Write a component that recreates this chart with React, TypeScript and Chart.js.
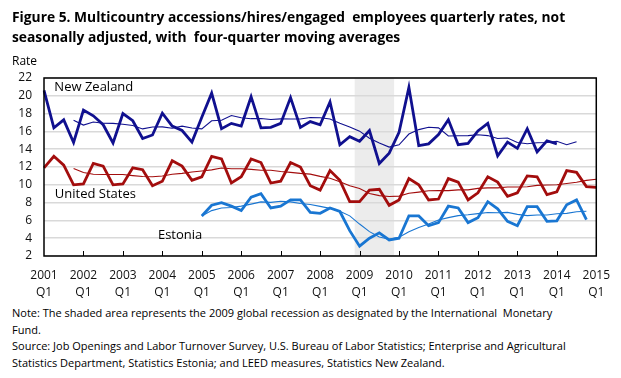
import React, { useEffect, useRef } from "react";
import { Chart, registerables } from "chart.js";

Chart.register(...registerables);

const years = ["2001", "2002", "2003", "2004", "2005", "2006", "2007", "2008", "2009", "2010", "2011", "2012", "2013", "2014", "2015"];
const quarterNames = ["Q1", "Q2", "Q3", "Q4"];
const categories: string[] = years.flatMap((y, i) =>
  i < years.length - 1 ? quarterNames.map((q) => `${y} ${q}`) : [`${y} Q1`]
);

// New Zealand, starts 2001 Q1
const nzRate = [20.6, 16.4, 17.3, 14.75, 18.4, 17.75, 16.75, 14.7, 18.0, 17.2, 15.2, 15.6, 18.05, 16.6, 16.1, 14.8,
  17.6, 20.3, 16.3, 16.9, 16.6, 19.9, 16.4, 16.45, 16.9, 19.8, 16.45, 17.1, 16.75, 19.3, 14.5, 15.4,
  14.9, 16.1, 12.4, 13.55, 15.9, 20.95, 14.4, 14.6, 15.65, 17.3, 14.5, 14.65, 16.05, 16.9, 13.25, 14.8,
  14.1, 16.3, 13.7, 14.95, 14.6];
// New Zealand moving average, starts 2001 Q4
const nzAvgStart = 3;
const nzAvg = [17.26, 16.71, 17.05, 16.91, 16.9, 16.8, 16.66, 16.28, 16.5, 16.51, 16.36, 16.59, 16.39,
  16.28, 17.2, 17.25, 17.78, 17.53, 17.43, 17.45, 17.34, 17.41, 17.39, 17.4, 17.56, 17.53, 17.4, 16.91, 16.49,
  16.03, 15.23, 14.7, 14.24, 14.49, 15.7, 16.2, 16.46, 16.4, 15.49, 15.51, 15.53, 15.63, 15.53, 15.21, 15.25,
  14.76, 14.61, 14.73, 14.76, 14.89, 14.5, 14.83];

// United States, starts 2001 Q1
const usRate = [11.9, 13.2, 12.2, 10.0, 10.1, 12.4, 12.1, 10.0, 10.1, 11.9, 11.7, 9.9, 10.4, 12.7, 12.1, 10.5,
  10.9, 13.2, 12.9, 10.2, 10.9, 12.9, 12.5, 10.2, 10.4, 12.5, 12.0, 9.9, 9.4, 11.6, 10.5, 8.1,
  8.1, 9.4, 9.5, 7.7, 8.3, 10.7, 10.0, 8.3, 8.4, 10.7, 10.3, 8.3, 9.1, 10.9, 10.3, 8.7,
  9.1, 11.0, 10.9, 8.9, 9.2, 11.6, 11.4, 9.8, 9.7];
const usAvgStart = 3;
const usAvg = [11.83, 11.38, 11.18, 11.15, 11.15, 11.15, 11.03, 10.93, 10.9, 10.98, 11.18, 11.28, 11.43,
  11.55, 11.68, 11.88, 11.8, 11.8, 11.73, 11.63, 11.63, 11.5, 11.4, 11.28, 11.2, 10.95, 10.73, 10.35, 9.9,
  9.58, 9.03, 8.78, 8.68, 8.73, 9.05, 9.18, 9.33, 9.35, 9.35, 9.43, 9.43, 9.6, 9.65, 9.65, 9.75,
  9.75, 9.78, 9.93, 9.98, 10.0, 10.15, 10.28, 10.5, 10.63];

// Estonia, starts 2005 Q1
const eeStart = 16;
const eeRate = [6.5, 7.7, 8.0, 7.6, 7.1, 8.6, 9.0, 7.4, 7.6, 8.3, 8.3, 6.9, 6.8, 7.4, 7.0, 4.85,
  3.1, 4.0, 4.6, 3.8, 4.0, 6.5, 6.5, 5.4, 5.75, 7.6, 7.4, 5.75, 6.3, 8.1, 7.3, 5.9,
  5.4, 7.55, 7.55, 5.9, 5.95, 7.75, 8.3, 6.1];
const eeAvg = [6.5, 7.1, 7.4, 7.45, 7.6, 7.83, 8.08, 8.03, 8.15, 8.08, 7.9, 7.78, 7.58, 7.35, 7.03, 6.51,
  5.59, 4.74, 4.14, 3.88, 4.1, 4.73, 5.2, 5.6, 6.04, 6.31, 6.54, 6.63, 6.76, 6.89, 6.86, 6.9,
  6.68, 6.54, 6.6, 6.6, 6.74, 6.79, 6.98, 7.03];

// recession shading, category index span (2009)
const recessionFrom = 31.5;
const recessionTo = 35.5;

const seriesLabels = [
  { text: "New Zealand", at: 1.05, value: 20.9 },
  { text: "United States", at: 1.1, value: 8.9 },
  { text: "Estonia", at: 11.55, value: 4.35 },
];

const NZ = "#10108f";
const US = "#a30d0d";
const EE = "#1976d2";

function place(start: number, values: number[]): (number | null)[] {
  return categories.map((_, i) => (i >= start && i - start < values.length ? values[i - start] : null));
}

const FONT = "'Open Sans', 'DejaVu Sans', sans-serif";

const decor = {
  id: "decor",
  beforeDraw(chart: any) {
    const { ctx, chartArea, scales } = chart;
    const x0 = scales.x.getPixelForValue(recessionFrom);
    const x1 = scales.x.getPixelForValue(recessionTo);
    ctx.save();
    ctx.fillStyle = "#ececec";
    ctx.fillRect(x0, chartArea.top, x1 - x0, chartArea.bottom - chartArea.top);
    ctx.restore();
  },
  afterDatasetsDraw(chart: any) {
    const { ctx, chartArea, scales } = chart;
    const { left, right, top, bottom } = chartArea;
    ctx.save();
    ctx.strokeStyle = "#000";
    ctx.lineWidth = 1;
    for (let i = 4; i < categories.length - 1; i += 4) {
      const px = Math.round(scales.x.getPixelForValue(i)) + 0.5;
      ctx.beginPath();
      ctx.moveTo(px, bottom);
      ctx.lineTo(px, bottom - 5);
      ctx.stroke();
    }
    ctx.lineWidth = 1.5;
    ctx.strokeRect(left, top, right - left, bottom - top);
    ctx.fillStyle = "#000";
    ctx.font = `13px ${FONT}`;
    ctx.textBaseline = "middle";
    ctx.textAlign = "left";
    for (const l of seriesLabels) {
      ctx.fillText(l.text, scales.x.getPixelForValue(l.at), scales.y.getPixelForValue(l.value));
    }
    ctx.restore();
  },
};

export default function App() {
  const ref = useRef<HTMLCanvasElement | null>(null);

  useEffect(() => {
    if (!ref.current) return;
    const thick = 2.8;
    const thin = 1.1;
    const chart = new Chart(ref.current, {
      type: "line",
      data: {
        labels: categories,
        datasets: [
          { label: "New Zealand", data: place(0, nzRate), borderColor: NZ, borderWidth: thick, pointRadius: 0, tension: 0 },
          { label: "New Zealand average", data: place(nzAvgStart, nzAvg), borderColor: NZ, borderWidth: thin, pointRadius: 0, tension: 0 },
          { label: "United States", data: place(0, usRate), borderColor: US, borderWidth: thick, pointRadius: 0, tension: 0 },
          { label: "United States average", data: place(usAvgStart, usAvg), borderColor: US, borderWidth: thin, pointRadius: 0, tension: 0 },
          { label: "Estonia", data: place(eeStart, eeRate), borderColor: EE, borderWidth: thick, pointRadius: 0, tension: 0 },
          { label: "Estonia average", data: place(eeStart, eeAvg), borderColor: EE, borderWidth: thin, pointRadius: 0, tension: 0 },
        ],
      },
      options: {
        animation: false,
        responsive: false,
        events: [],
        layout: { padding: { top: 78, right: 22, left: 0, bottom: 0 } },
        plugins: { legend: { display: false }, tooltip: { enabled: false }, title: { display: false } },
        scales: {
          x: {
            type: "category",
            offset: false,
            grid: { display: false, drawTicks: false },
            border: { display: false },
            afterFit: (s: any) => { s.height = 44; },
            ticks: {
              autoSkip: false,
              maxRotation: 0,
              padding: 11,
              color: "#111",
              font: { family: FONT, size: 12, lineHeight: 1.4 },
              callback: (_v: any, idx: number) => (idx % 4 === 0 ? [years[idx / 4], "Q1"] : null),
            },
          },
          y: {
            min: 2,
            max: 22,
            afterFit: (s: any) => { s.width = 44; },
            grid: { color: "#d9d9d9", lineWidth: 1.5, drawTicks: false },
            border: { display: false },
            ticks: {
              stepSize: 2,
              padding: 12,
              color: "#111",
              font: { family: FONT, size: 12 },
            },
          },
        },
      },
      plugins: [decor],
    } as any);
    return () => chart.destroy();
  }, []);

  return (
    <div style={{ position: "absolute", left: 0, top: 0, width: 621, height: 378, background: "#fff", fontFamily: FONT, color: "#000", overflow: "hidden" }}>
      <canvas ref={ref} width={621} height={300} style={{ position: "absolute", left: 0, top: 0, width: 621, height: 300 }} />
      <div style={{ position: "absolute", left: 12, top: 7, fontSize: 13.8, fontWeight: 700, lineHeight: "20px", whiteSpace: "nowrap" }}>
        Figure 5. Multicountry accessions/hires/engaged&nbsp; employees quarterly rates, not
        <br />
        seasonally adjusted, with&nbsp; four-quarter moving averages
      </div>
      <div style={{ position: "absolute", left: 12, top: 53, fontSize: 12, lineHeight: "16px" }}>Rate</div>
      <div style={{ position: "absolute", left: 12, top: 305, fontSize: 11, lineHeight: "16.7px", whiteSpace: "nowrap" }}>
        Note: The shaded area represents the 2009 global recession as designated by the International&nbsp; Monetary
        <br />
        Fund.
        <br />
        Source: Job Openings and Labor Turnover Survey, U.S. Bureau of Labor Statistics; Enterprise and Agricultural
        <br />
        Statistics Department, Statistics Estonia; and LEED measures, Statistics New Zealand.
      </div>
    </div>
  );
}
